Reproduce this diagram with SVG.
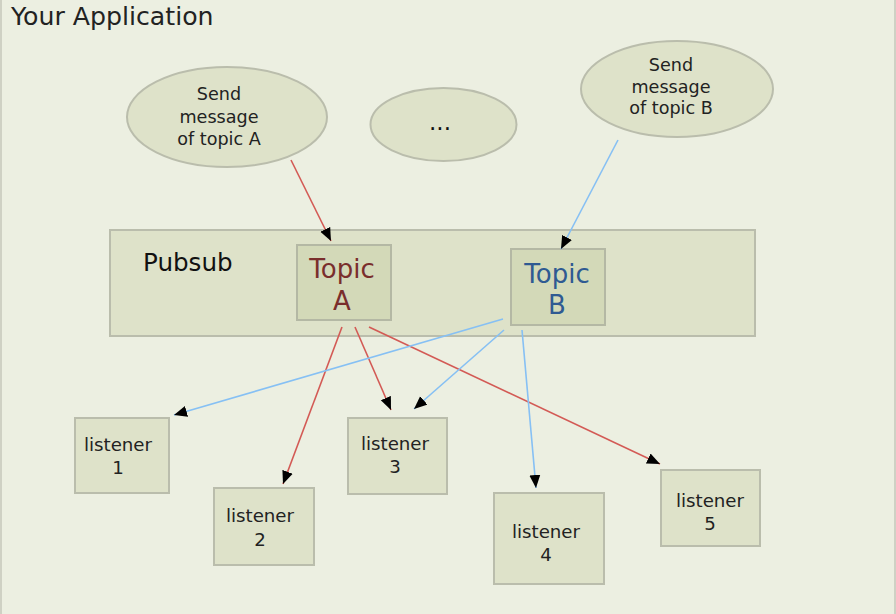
<svg xmlns="http://www.w3.org/2000/svg" width="896" height="614" viewBox="0 0 896 614">
<defs>
<marker id="ah" markerUnits="userSpaceOnUse" markerWidth="14" markerHeight="12" refX="13" refY="5.5" orient="auto" viewBox="0 0 14 11">
<path d="M0,0 L13,5.5 L0,11 Z" fill="#000"/>
</marker>
<style>
.bg{fill:#ecefe1;stroke:#cfd1c4;stroke-width:2}
.node{fill:#dee2c9;stroke:#babdac;stroke-width:2}
.topic{fill:#d3d9b8;stroke:#b4b8a4;stroke-width:2}
text{font-family:'DejaVu Sans',sans-serif}
.t{text-anchor:middle;fill:#222}
.s{font-size:17.6px}
.l{font-size:18.2px}
.big{font-size:26px}
.red{stroke:#d35a55;stroke-width:1.6;fill:none;marker-end:url(#ah)}
.blue{stroke:#86c0f4;stroke-width:1.6;fill:none;marker-end:url(#ah)}
</style>
</defs>
<rect class="bg" x="1" y="-10" width="894" height="640"/>
<text x="11" y="25" font-size="25.2" fill="#222">Your Application</text>

<g id="sendA">
<ellipse class="node" cx="227" cy="117" rx="100" ry="50"/>
<text class="t s" x="219" y="100">Send</text>
<text class="t s" x="219" y="123">message</text>
<text class="t s" x="219" y="145">of topic A</text>
</g>
<g id="dots">
<ellipse class="node" cx="443.5" cy="124.5" rx="73" ry="36.5"/>
<text class="t" x="440" y="130" style="font-size:23px;fill:#111">...</text>
</g>
<g id="sendB">
<ellipse class="node" cx="677" cy="89" rx="96" ry="48"/>
<text class="t s" x="671" y="71">Send</text>
<text class="t s" x="671" y="93">message</text>
<text class="t s" x="671" y="114">of topic B</text>
</g>
<g id="pubsub">
<rect class="node" x="110" y="230" width="645" height="106"/>
<text x="143" y="271" font-size="24.6" fill="#111">Pubsub</text>
</g>
<g id="topicA">
<rect class="topic" x="297" y="245" width="94" height="75"/>
<text class="t big" x="342" y="278" style="fill:#7a2e2c">Topic</text>
<text class="t big" x="342" y="310" style="fill:#7a2e2c">A</text>
</g>
<g id="topicB">
<rect class="topic" x="511" y="249" width="94" height="76"/>
<text class="t big" x="557" y="283" style="fill:#2f5a92">Topic</text>
<text class="t big" x="557" y="314" style="fill:#2f5a92">B</text>
</g>
<g id="listener1">
<rect class="node" x="75" y="418" width="94" height="75"/>
<text class="t l" x="118" y="451">listener</text>
<text class="t l" x="118" y="474">1</text>
</g>
<g id="listener2">
<rect class="node" x="214" y="488" width="100" height="77"/>
<text class="t l" x="260" y="522">listener</text>
<text class="t l" x="260" y="546">2</text>
</g>
<g id="listener3">
<rect class="node" x="348" y="418" width="99" height="76"/>
<text class="t l" x="395" y="450">listener</text>
<text class="t l" x="395" y="473">3</text>
</g>
<g id="listener4">
<rect class="node" x="494" y="493" width="110" height="91"/>
<text class="t l" x="546" y="538">listener</text>
<text class="t l" x="546" y="561">4</text>
</g>
<g id="listener5">
<rect class="node" x="661" y="470" width="99" height="76"/>
<text class="t l" x="710" y="507">listener</text>
<text class="t l" x="710" y="530">5</text>
</g>

<g id="connectors">
<line class="red" x1="291" y1="160" x2="331" y2="241"/>
<line class="blue" x1="618" y1="140" x2="561" y2="249"/>
<line class="red" x1="342" y1="327" x2="283" y2="484"/>
<line class="red" x1="355" y1="327" x2="391" y2="410"/>
<line class="red" x1="369" y1="327" x2="660" y2="464"/>
<line class="blue" x1="503" y1="319" x2="174" y2="415"/>
<line class="blue" x1="504" y1="330" x2="414" y2="409"/>
<line class="blue" x1="522" y1="330" x2="536" y2="488"/>
</g>
</svg>
